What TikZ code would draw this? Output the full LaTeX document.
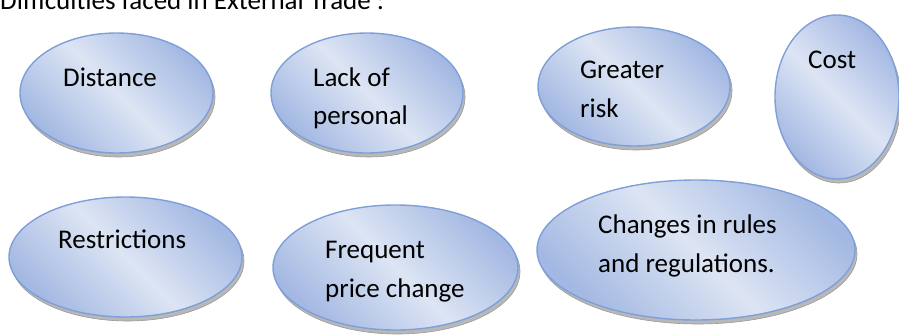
\documentclass[tikz,border=0pt]{standalone}
\usepackage{fontspec}
\setmainfont{Carlito}
\usetikzlibrary{shapes.geometric,patterns}
\definecolor{edgeblue}{HTML}{7F9FD8}
\definecolor{darkfill}{HTML}{A3B8E2}
\definecolor{lightfill}{HTML}{DDE5F4}
\definecolor{shadowgray}{HTML}{9A9A9A}
\begin{document}
\begin{tikzpicture}[x=1pt,y=-1pt,
  bubble/.style={ellipse,inner sep=0pt,draw=edgeblue,line width=1.4pt,
    top color=darkfill,bottom color=darkfill,middle color=lightfill,shading angle=-45},
  shade/.style={ellipse,inner sep=0pt,fill=shadowgray!70,draw=shadowgray,line width=0.6pt},
  txt/.style={anchor=base west,inner sep=0pt,font=\fontsize{27}{39}\selectfont}]
\useasboundingbox (0,0) rectangle (899,335);
% shadows
\node[shade,minimum width=193pt,minimum height=120pt] (s1) at (118.5,97) {};
\node[shade,minimum width=192pt,minimum height=120pt] (s2) at (369,97) {};
\node[shade,minimum width=192pt,minimum height=119pt] (s3) at (636,90.5) {};
\node[shade,minimum width=124pt,minimum height=164pt] (s4) at (839,101) {};
\node[shade,minimum width=233pt,minimum height=120pt] (s5) at (127.5,261) {};
\node[shade,minimum width=245pt,minimum height=125pt] (s6) at (397.5,271.5) {};
\node[shade,minimum width=318pt,minimum height=140pt] (s7) at (698,254) {};
% bubbles
\node[bubble,minimum width=193pt,minimum height=120pt] (e1) at (116.5,93) {};
\node[bubble,minimum width=192pt,minimum height=120pt] (e2) at (367,93) {};
\node[bubble,minimum width=192pt,minimum height=119pt] (e3) at (634,86.5) {};
\node[bubble,minimum width=124pt,minimum height=164pt] (e4) at (837,97) {};
\node[bubble,minimum width=233pt,minimum height=120pt] (e5) at (125.5,257) {};
\node[bubble,minimum width=245pt,minimum height=125pt] (e6) at (395.5,267.5) {};
\node[bubble,minimum width=318pt,minimum height=140pt] (e7) at (696,250) {};
% texts
\node[txt] (title) at (0,9) {Difficulties faced in External Trade :};
\node[txt] (t1) at (63,86) {Distance};
\node[txt] (t2a) at (313,86) {Lack of};
\node[txt] (t2b) at (313,124) {personal};
\node[txt] (t3a) at (580,78) {Greater};
\node[txt] (t3b) at (580,117) {risk};
\node[txt] (t4) at (808,68) {Cost};
\node[txt] (t5) at (58,248) {Restrictions};
\node[txt] (t6a) at (325,258) {Frequent};
\node[txt] (t6b) at (325,297) {price change};
\node[txt] (t7a) at (598,233) {Changes in rules};
\node[txt] (t7b) at (598,272) {and regulations.};
\end{tikzpicture}
\end{document}
